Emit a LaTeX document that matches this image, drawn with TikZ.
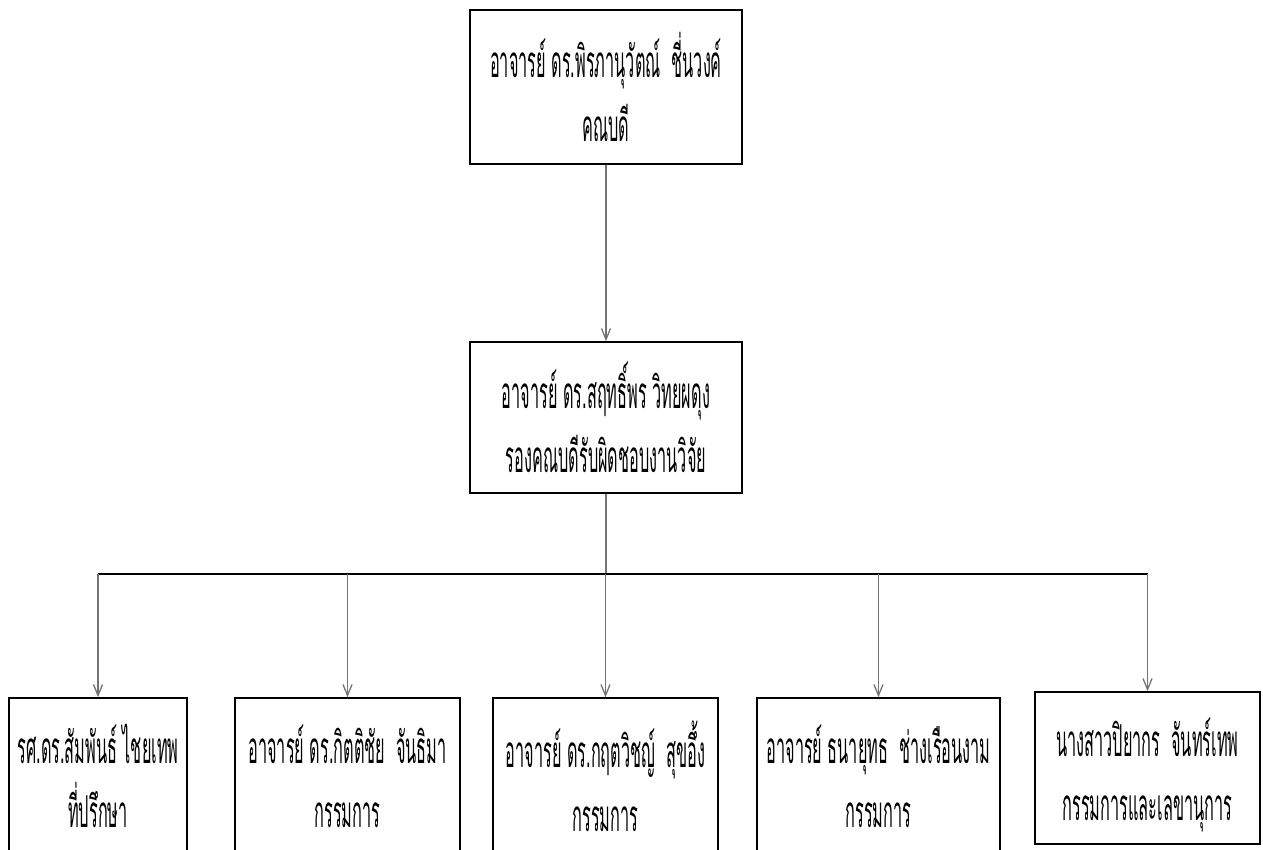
\documentclass[tikz,border=0pt]{standalone}
\usepackage{fontspec}
\newfontfamily\thaifont[Script=Thai,FakeStretch=0.37]{Loma}
\newcommand\orgfont{\thaifont\fontsize{44}{64}\selectfont\lineskiplimit -200pt\relax}
\usetikzlibrary{arrows.meta}

\begin{document}
\begin{tikzpicture}[x=1pt,y=-1pt]
      \tikzset{orgbox/.style={draw=black,line width=1.6pt,align=center,inner sep=0pt,font=\orgfont},
               orgtext/.style={align=center,inner sep=0pt,font=\orgfont},
               feed/.style={draw=black!55,line width=1.3pt,-{Straight Barb[length=11pt,width=9pt]}}}
      \useasboundingbox (0,0) rectangle (1263,849);
      \clip (0,0) rectangle (1263,849);

\node[orgbox,minimum width=272,minimum height=154] (dean) at (606,87)
  {อาจารย์ ดร.พิรภานุวัตณ์\ \ ชี่นวงค์\\คณบดี};
\node[orgbox,minimum width=272,minimum height=151] (vice) at (606,417.5)
  {อาจารย์ ดร.สฤทธิ์พร วิทยผดุง\\รองคณบดีรับผิดชอบงานวิจัย};

\node[orgbox,minimum width=178,minimum height=156] (adv) at (98,776)
  {รศ.ดร.สัมพันธ์ ไชยเทพ\\ที่ปรึกษา};
\node[orgbox,minimum width=225,minimum height=156] (mA) at (347.5,776)
  {อาจารย์ ดร.กิตติชัย\ \ จันธิมา\\กรรมการ};
\node[orgbox,minimum width=225,minimum height=156] (mB) at (605.5,776)
  {อาจารย์ ดร.กฤตวิชญ์\ \ สุขอึ้ง\\กรรมการ};
\node[orgbox,minimum width=243,minimum height=156] (mC) at (878.5,776)
  {อาจารย์ ธนายุทธ\ \ ช่างเรือนงาม\\กรรมการ};
\node[orgbox,minimum width=225,minimum height=152] (sec) at (1147.5,768) {};
\node[orgtext] (secT) at (1147.5,775)
  {นางสาวปิยากร\ \ จันทร์เทพ\\กรรมการและเลขานุการ};

\coordinate (bus) at (606,574);

\draw[feed] (dean) -- (vice);
\draw[draw=black!55,line width=1.3pt] (vice) -- (bus);
\draw[line width=1.6pt] (adv.north |- bus) -- (sec.north |- bus);
\foreach \p in {adv,mA,mB,mC,sec}
		\draw[feed] (\p.north |- bus) -- (\p.north);

    \end{tikzpicture}
\end{document}
